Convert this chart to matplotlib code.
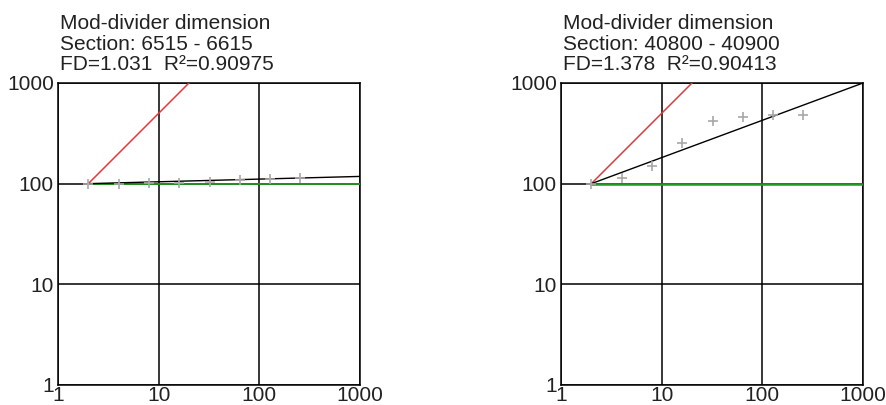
import matplotlib
matplotlib.use("Agg")
import matplotlib.pyplot as plt

plt.rcParams["font.family"] = ["Liberation Sans", "DejaVu Sans"]

# divider lengths (x) and measured values (y) for the two sections
steps = [2, 4, 8, 16, 32, 64, 128, 256]
pts_a = [100, 100, 101, 102, 105, 108, 112, 113]
pts_b = [100, 115, 151, 255, 422, 462, 484, 484]
fit_x = [2, 1000]
fit_a = [100, 118]
fit_b = [100, 1000]
ref_x = [2, 20]
ref_y = [100, 1000]       # slope-1 reference (red)
flat_x = [2, 1000]
flat_y = [100, 100]       # slope-0 reference (green)
titles = ["Mod-divider dimension\nSection: 6515 - 6615\nFD=1.031  R²=0.90975",
          "Mod-divider dimension\nSection: 40800 - 40900\nFD=1.378  R²=0.90413"]
ticks = [1, 10, 100, 1000]

fig = plt.figure(figsize=(8.87, 4.05), dpi=100)
axes = [fig.add_axes([0.0654, 0.0494, 0.3405, 0.7457]),
        fig.add_axes([0.6325, 0.0494, 0.3405, 0.7457])]

for ax, pts, fit, ttl, glw in zip(axes, [pts_a, pts_b], [fit_a, fit_b], titles, [1.3, 1.8]):
    ax.set_xscale("log"); ax.set_yscale("log")
    ax.set_xlim(1, 1000); ax.set_ylim(1, 1000)
    ax.set_xticks(ticks); ax.set_yticks(ticks)
    ax.set_xticklabels([str(t) for t in ticks]); ax.set_yticklabels([str(t) for t in ticks])
    ax.minorticks_off()
    ax.tick_params(axis="y", length=0, labelsize=15, pad=3, colors="#222222")
    ax.tick_params(axis="x", length=0, labelsize=15, pad=1, colors="#222222")
    ax.grid(True, color="black", lw=1.1)
    ax.set_axisbelow(True)
    for s in ax.spines.values():
        s.set_linewidth(1.1)
    ax.plot(flat_x, flat_y, color="#1f9a1f", lw=glw, zorder=3)
    ax.plot(ref_x, ref_y, color="#e03a3a", lw=1.1, zorder=3)
    ax.plot(fit_x, fit, color="black", lw=1.0, zorder=4)
    ax.plot(steps, pts, "+", color="#a8a8a8", ms=7, mew=1.2, ls="none", zorder=5)
    ax.set_title(ttl, loc="left", fontsize=15, linespacing=1.12, pad=9, x=0.005, color="#222222")

fig.savefig("out.png", dpi=100)
